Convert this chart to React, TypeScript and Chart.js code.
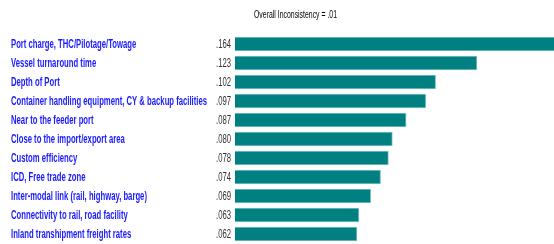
import React, { useEffect, useRef } from "react";
import { Chart, registerables } from "chart.js";

Chart.register(...registerables);

const categories = [
  "Port charge, THC/Pilotage/Towage",
  "Vessel turnaround time",
  "Depth of Port",
  "Container handling equipment, CY & backup facilities",
  "Near to the feeder port",
  "Close to the import/export area",
  "Custom efficiency",
  "ICD, Free trade zone",
  "Inter-modal link (rail, highway, barge)",
  "Connectivity to rail, road facility",
  "Inland transhipment freight rates",
];
const values = [0.164, 0.123, 0.102, 0.097, 0.087, 0.08, 0.078, 0.074, 0.069, 0.063, 0.062];
const valueLabels = [".164", ".123", ".102", ".097", ".087", ".080", ".078", ".074", ".069", ".063", ".062"];
const title = "Overall Inconsistency = .01";

const LABEL_FONT = "bold 12px 'Liberation Sans', Arial, sans-serif";
const VALUE_FONT = "12px 'Liberation Sans', Arial, sans-serif";
const TITLE_FONT = "11px 'Liberation Sans', Arial, sans-serif";

function fillCondensed(ctx: any, text: string, x: number, y: number, align: string, sx: number) {
  const w = ctx.measureText(text).width * sx;
  let left = x;
  if (align === "right") left = x - w;
  else if (align === "center") left = x - w / 2;
  ctx.save();
  ctx.translate(left, y);
  ctx.scale(sx, 1);
  ctx.textAlign = "left";
  ctx.fillText(text, 0, 0);
  ctx.restore();
}

const labelPlugin = {
  id: "sideLabels",
  afterDraw(chart: any) {
    const ctx = chart.ctx;
    const y = chart.scales.y;
    const area = chart.chartArea;
    ctx.save();
    ctx.textBaseline = "middle";
    ctx.font = LABEL_FONT;
    const longest = Math.max(...categories.map((c) => ctx.measureText(c).width));
    const labelScale = 196 / longest;
    ctx.font = VALUE_FONT;
    const valueScale = 15 / ctx.measureText(".164").width;
    categories.forEach((c, i) => {
      const py = y.getPixelForValue(i) + 0.5;
      ctx.font = LABEL_FONT;
      ctx.fillStyle = "#1a1aff";
      fillCondensed(ctx, c, 11, py, "left", labelScale);
      ctx.font = VALUE_FONT;
      ctx.fillStyle = "#333333";
      fillCondensed(ctx, valueLabels[i], area.left - 4, py, "right", valueScale);
    });
    ctx.font = TITLE_FONT;
    ctx.fillStyle = "#000000";
    const titleScale = 83 / ctx.measureText(title).width;
    fillCondensed(ctx, title, 254, 15, "left", titleScale);
    ctx.restore();
  },
};

export default function App() {
  const ref = useRef<HTMLCanvasElement | null>(null);
  useEffect(() => {
    document.body.style.margin = "0";
    const chart = new Chart(ref.current!, {
      type: "bar",
      data: {
        labels: categories,
        datasets: [
          {
            data: values,
            backgroundColor: "#008080",
            borderColor: "#7fc4c4",
            borderWidth: 1,
            barThickness: 14,
          },
        ],
      },
      options: {
        indexAxis: "y",
        animation: false,
        responsive: false,
        maintainAspectRatio: false,
        layout: { padding: { left: 235, right: 0, top: 34.5, bottom: 0.5 } },
        plugins: { legend: { display: false }, tooltip: { enabled: false }, title: { display: false } },
        scales: {
          x: { display: false, min: 0, max: 0.1622 },
          y: { display: false },
        },
      },
      plugins: [labelPlugin],
    });
    return () => chart.destroy();
  }, []);
  return (
    <div style={{ width: 554, height: 244 }}>
      <canvas ref={ref} width={554} height={244} style={{ display: "block" }} />
    </div>
  );
}
